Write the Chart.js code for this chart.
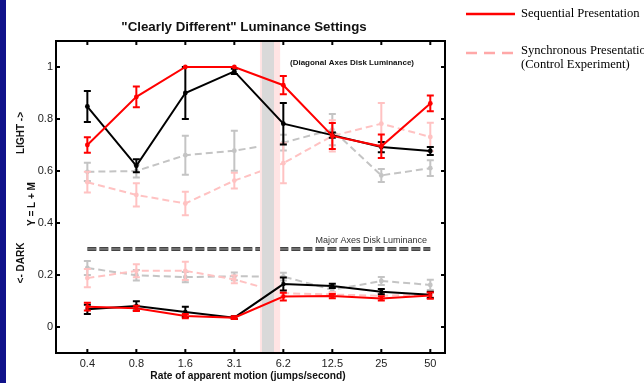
<!DOCTYPE html>
<html>
<head>
<meta charset="utf-8">
<script src="https://cdn.jsdelivr.net/npm/chart.js@4/dist/chart.umd.min.js"></script>
<style>
  html, body { margin: 0; padding: 0; background: #fff; }
  #wrap { position: relative; width: 644px; height: 383px; }
</style>
</head>
<body>
<div id="wrap"><canvas id="c" width="644" height="383"></canvas></div>
<script>
// motion rates (jumps/second) on the x axis
const rates = ['0.4', '0.8', '1.6', '3.1', '6.2', '12.5', '25', '50'];
const yTicks = [0, 0.2, 0.4, 0.6, 0.8, 1];

// sequential presentation, diagonal axes disk (light)
const seqRedLight      = [0.70, 0.885, 1.0, 1.0, 0.93, 0.735, 0.695, 0.86];
const seqRedLightErr   = [0.03, 0.04, 0, 0, 0.035, 0.05, 0.045, 0.03];
const seqBlackLight    = [0.848, 0.62, 0.90, 0.983, 0.782, 0.738, 0.692, 0.677];
const seqBlackLightErr = [0.06, 0.025, 0.1, 0.01, 0.08, 0.01, 0.02, 0.015];
// synchronous presentation (control), light
const synPinkLight     = [0.557, 0.508, 0.475, 0.563, 0.63, 0.735, 0.782, 0.731];
const synPinkLightErr  = [0.04, 0.045, 0.045, 0.03, 0.077, 0.06, 0.08, 0.055];
const synGrayLight     = [0.597, 0.60, 0.661, 0.678, 0.709, 0.759, 0.583, 0.611];
const synGrayLightErr  = [0.035, 0.025, 0.075, 0.077, 0.03, 0.06, 0.025, 0.03];

// dark disks
const seqRedDark       = [0.078, 0.072, 0.042, 0.036, 0.117, 0.119, 0.110, 0.121];
const seqRedDarkErr    = [0.015, 0.01, 0.008, 0.005, 0.015, 0.008, 0.008, 0.012];
const seqBlackDark     = [0.068, 0.081, 0.058, 0.036, 0.165, 0.158, 0.136, 0.124];
const seqBlackDarkErr  = [0.018, 0.018, 0.02, 0.005, 0.025, 0.008, 0.01, 0.012];
const synPinkDark      = [0.188, 0.216, 0.216, 0.183, 0.13, 0.125, 0.12, 0.125];
const synPinkDarkErr   = [0.035, 0.025, 0.035, 0.015, 0.01, 0.01, 0.01, 0.01];
const synGrayDark      = [0.227, 0.199, 0.192, 0.195, 0.194, 0.143, 0.177, 0.162];
const synGrayDarkErr   = [0.027, 0.02, 0.02, 0.015, 0.015, 0.01, 0.015, 0.02];

// major axes disk luminance reference
const majorAxes = [0.3, 0.3, 0.3, 0.3, 0.3, 0.3, 0.3, 0.3];
// shaded band between 3.1 and 6.2 (x as category position)
const bandOuter = [3.52, 3.94];
const bandInner = [3.56, 3.81];

const pts = vals => vals.map((v, i) => ({ x: i, y: v }));
const band = xs => xs.map(x => ({ x, y: 1.1 }));

function series(vals, errs, color, dashed, style) {
  return {
    data: pts(vals),
    errors: errs,
    borderColor: color,
    backgroundColor: color,
    borderWidth: 2,
    borderDash: dashed ? [7, 4] : [],
    pointStyle: style,
    pointRadius: style === 'rect' ? 2.6 : 2.4,
    pointBorderWidth: 0,
    pointBackgroundColor: color,
    tension: 0,
    fill: false
  };
}

const RED = '#ff0000', BLACK = '#000000', PINK = '#ffc2c2', GRAY = '#c4c4c4';

const datasets = [
  series(seqRedLight, seqRedLightErr, RED, false, 'circle'),
  series(seqBlackLight, seqBlackLightErr, BLACK, false, 'circle'),
  series(seqRedDark, seqRedDarkErr, RED, false, 'rect'),
  series(seqBlackDark, seqBlackDarkErr, BLACK, false, 'rect'),
  { data: band(bandInner), fill: 'start', backgroundColor: '#d9d9d9', borderWidth: 0, pointRadius: 0 },
  { data: band(bandOuter), fill: 'start', backgroundColor: '#ffe4e4', borderWidth: 0, pointRadius: 0 },
  { data: pts(majorAxes), borderColor: '#9a9a9a', borderWidth: 1.2, borderDash: [9, 3], pointRadius: 0, fill: false },
  { data: pts(majorAxes), borderColor: '#444444', borderWidth: 4, borderDash: [9, 3], pointRadius: 0, fill: false },
  series(synPinkLight, synPinkLightErr, PINK, true, 'circle'),
  series(synGrayLight, synGrayLightErr, GRAY, true, 'circle'),
  series(synPinkDark, synPinkDarkErr, PINK, true, 'circle'),
  series(synGrayDark, synGrayDarkErr, GRAY, true, 'circle')
];

const errorBars = {
  id: 'errorBars',
  afterDatasetDraw(chart, args) {
    const ds = chart.data.datasets[args.index];
    if (!ds.errors) return;
    const ctx = chart.ctx, y = chart.scales.y;
    ctx.save();
    ctx.strokeStyle = ds.borderColor;
    ctx.lineWidth = 2;
    args.meta.data.forEach((el, i) => {
      const e = ds.errors[i];
      if (!e) return;
      const v = ds.data[i].y;
      const t = y.getPixelForValue(v + e), b = y.getPixelForValue(v - e);
      ctx.beginPath();
      ctx.moveTo(el.x, t); ctx.lineTo(el.x, b);
      ctx.moveTo(el.x - 3.5, t); ctx.lineTo(el.x + 3.5, t);
      ctx.moveTo(el.x - 3.5, b); ctx.lineTo(el.x + 3.5, b);
      ctx.stroke();
    });
    ctx.restore();
  }
};

const decorations = {
  id: 'decorations',
  beforeDraw(chart) {
    const ctx = chart.ctx;
    ctx.save();
    ctx.fillStyle = '#fff';
    ctx.fillRect(0, 0, chart.width, chart.height);
    ctx.fillStyle = '#10128a';
    ctx.fillRect(0, 0, 6, chart.height);
    ctx.restore();
  },
  afterDraw(chart) {
    const ctx = chart.ctx, a = chart.chartArea;
    const xs = chart.scales.x, ys = chart.scales.y;
    ctx.save();
    // frame + inward ticks
    ctx.strokeStyle = '#000';
    ctx.lineWidth = 2;
    ctx.strokeRect(a.left, a.top, a.right - a.left, a.bottom - a.top);
    ctx.beginPath();
    rates.forEach((r, i) => {
      const px = xs.getPixelForValue(i);
      ctx.moveTo(px, a.top); ctx.lineTo(px, a.top + 4);
      ctx.moveTo(px, a.bottom); ctx.lineTo(px, a.bottom - 4);
    });
    yTicks.forEach(v => {
      const py = ys.getPixelForValue(v);
      ctx.moveTo(a.left, py); ctx.lineTo(a.left + 4, py);
      ctx.moveTo(a.right, py); ctx.lineTo(a.right - 4, py);
    });
    ctx.stroke();

    // titles
    ctx.fillStyle = '#111';
    ctx.textAlign = 'center';
    ctx.textBaseline = 'middle';
    ctx.font = 'bold 13.3px "Liberation Sans", Arial, sans-serif';
    ctx.fillText('"Clearly Different" Luminance Settings', 244, 27);
    ctx.font = 'bold 10.2px "Liberation Sans", Arial, sans-serif';
    ctx.fillText('Rate of apparent motion (jumps/second)', 248, 376);

    const vtext = (txt, x, y) => {
      ctx.save();
      ctx.translate(x, y);
      ctx.rotate(-Math.PI / 2);
      ctx.fillText(txt, 0, 0);
      ctx.restore();
    };
    ctx.font = 'bold 10px "Liberation Sans", Arial, sans-serif';
    vtext('LIGHT ->', 21, 133);
    vtext('Y = L + M', 32, 204);
    vtext('<- DARK', 21, 263);

    // annotations
    ctx.font = 'bold 8px "Liberation Sans", Arial, sans-serif';
    ctx.fillText('(Diagonal Axes Disk Luminance)', 352, 63);
    ctx.font = '9px "Liberation Sans", Arial, sans-serif';
    ctx.fillStyle = '#333';
    ctx.textAlign = 'right';
    ctx.fillText('Major Axes Disk Luminance', 427, 241);

    // legend
    ctx.lineWidth = 2.5;
    ctx.strokeStyle = RED;
    ctx.beginPath(); ctx.moveTo(466, 14); ctx.lineTo(515, 14); ctx.stroke();
    ctx.strokeStyle = '#ffa8a8';
    ctx.setLineDash([11, 7]);
    ctx.beginPath(); ctx.moveTo(466, 53); ctx.lineTo(515, 53); ctx.stroke();
    ctx.setLineDash([]);
    ctx.fillStyle = '#000';
    ctx.textAlign = 'left';
    ctx.font = '12.6px "Liberation Serif", "Times New Roman", serif';
    ctx.fillText('Sequential Presentation', 521, 14);
    ctx.fillText('Synchronous Presentation', 521, 51);
    ctx.fillText('(Control Experiment)', 521, 65);
    ctx.restore();
  }
};

new Chart(document.getElementById('c'), {
  type: 'line',
  data: { datasets },
  plugins: [errorBars, decorations],
  options: {
    responsive: false,
    animation: false,
    layout: { padding: { left: 0, right: 199, top: 41, bottom: 0 } },
    plugins: {
      legend: { display: false },
      tooltip: { enabled: false },
      filler: { drawTime: 'beforeDatasetDraw' }
    },
    scales: {
      x: {
        type: 'linear',
        min: -0.64,
        max: 7.3,
        afterFit: s => { s.height = 30; },
        afterBuildTicks: s => { s.ticks = rates.map((r, i) => ({ value: i })); },
        ticks: {
          callback: v => rates[v],
          padding: 4,
          maxRotation: 0,
          autoSkip: false,
          color: '#222',
          font: { family: '"Liberation Sans", Arial, sans-serif', size: 11 }
        },
        grid: { display: false, drawTicks: false },
        border: { display: true, color: '#000', width: 2 }
      },
      y: {
        min: -0.1,
        max: 1.1,
        afterFit: s => { s.width = 56; },
        afterBuildTicks: s => { s.ticks = yTicks.map(v => ({ value: v })); },
        ticks: {
          callback: v => String(Math.round(v * 10) / 10),
          padding: 3,
          color: '#222',
          font: { family: '"Liberation Sans", Arial, sans-serif', size: 11 }
        },
        grid: { display: false, drawTicks: false },
        border: { display: true, color: '#000', width: 2 }
      }
    }
  }
});
</script>
</body>
</html>
